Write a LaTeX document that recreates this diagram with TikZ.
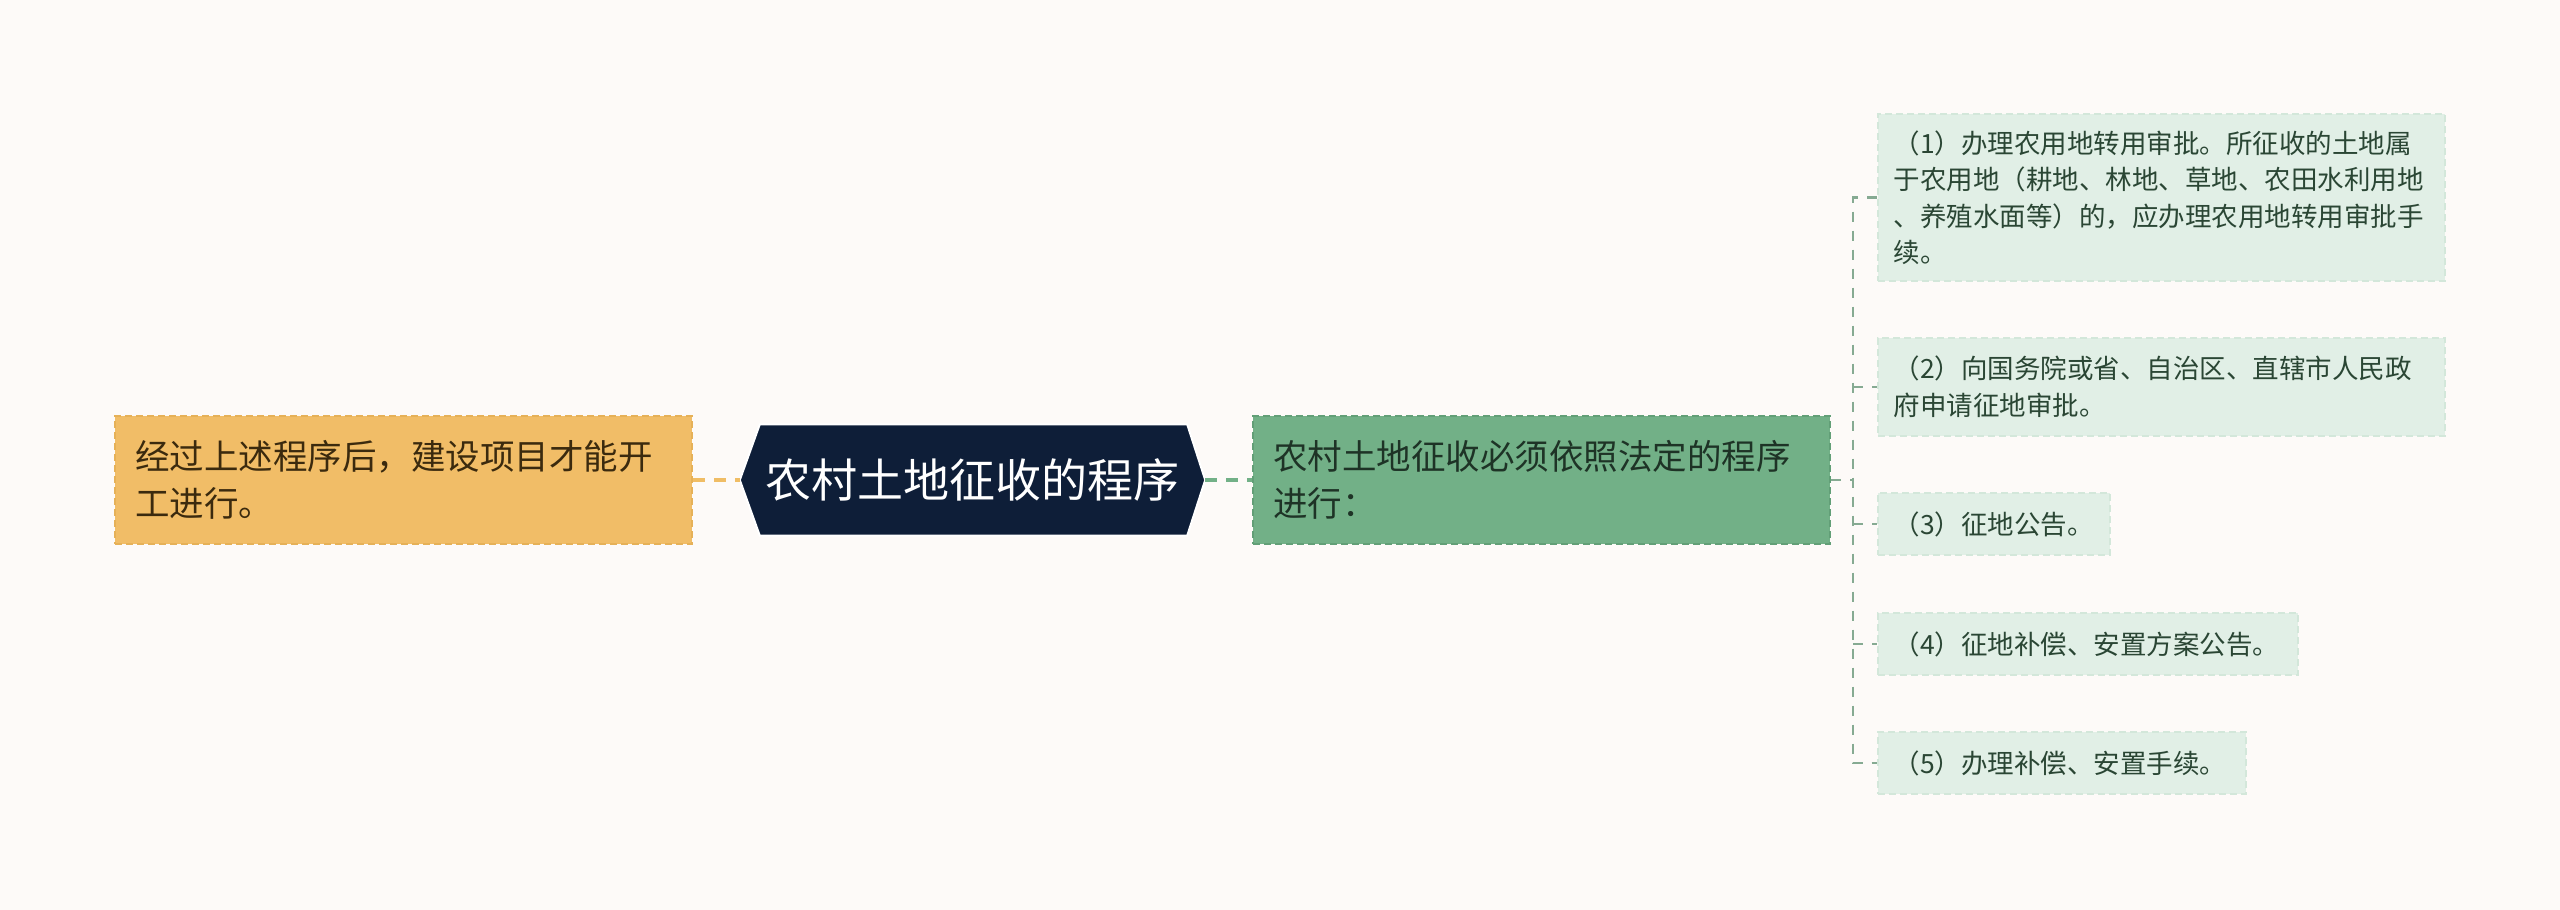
\documentclass[tikz,border=0pt]{standalone}
\usepackage{fontspec}
\setmainfont{Noto Sans CJK SC}
\usetikzlibrary{backgrounds}
\definecolor{bgc}{HTML}{FDFAF8}
\definecolor{orfill}{HTML}{F1BD67}
\definecolor{ordraw}{HTML}{E6B158}
\definecolor{ortext}{HTML}{3B2A0E}
\definecolor{rootfill}{HTML}{0E1E38}
\definecolor{grfill}{HTML}{72B087}
\definecolor{grdraw}{HTML}{629F77}
\definecolor{grtext}{HTML}{1E3326}
\definecolor{leaffill}{HTML}{E1EFE6}
\definecolor{leafdraw}{HTML}{D3E7DA}
\definecolor{leaftext}{HTML}{2A4634}
\definecolor{orline}{HTML}{F0BD65}
\definecolor{grline}{HTML}{72B087}
\definecolor{treecol}{HTML}{86AA92}
\begin{document}
\begin{tikzpicture}[x=1pt,y=-1pt,
  mainbox/.style={anchor=west, minimum height=128pt, inner xsep=20pt, inner ysep=4pt,
    text width=537pt, align=left, line width=2pt, dash pattern=on 7pt off 4pt,
    font=\fontsize{34.5}{47}\selectfont},
  leftbox/.style={mainbox, fill=orfill, draw=ordraw, text=ortext},
  midbox/.style={mainbox, fill=grfill, draw=grdraw, text=grtext},
  rootbox/.style={minimum width=465pt, minimum height=111pt, inner sep=0pt, text=white,
    font=\fontsize{46}{55}\selectfont},
  leafbox/.style={anchor=west, fill=leaffill, draw=leafdraw, line width=1.5pt,
    dash pattern=on 7pt off 4pt, inner xsep=16pt, inner ysep=4pt, align=left,
    text=leaftext, font=\fontsize{26.5}{36.5}\selectfont},
  conn/.style={line width=3.5pt, dash pattern=on 12pt off 9pt},
  treeline/.style={line width=2.4pt, draw=treecol, dash pattern=on 10pt off 9pt}]
\useasboundingbox (0,0) rectangle (2560,910);

\node[leftbox] (left) at (114,480) {经过上述程序后，建设项目才能开\\工进行。};
\node[rootbox] (root) at (972.5,480) {农村土地征收的程序};
\begin{scope}[on background layer]
\fill[bgc] (0,0) rectangle (2560,910);
\fill[rootfill, draw=white, line width=2pt] (root.west) -- ([xshift=20pt]root.north west) -- ([xshift=-18pt]root.north east)
  -- (root.east) -- ([xshift=-18pt]root.south east) -- ([xshift=20pt]root.south west) -- cycle;
\end{scope}
\node[midbox] (mid) at (1252,480) {农村土地征收必须依照法定的程序\\进行：};

\node[leafbox, text width=535pt, minimum height=167pt] (l1) at (1877,197.5)
  {（1）办理农用地转用审批。所征收的土地属\\于农用地（耕地、林地、草地、农田水利用地\\、养殖水面等）的，应办理农用地转用审批手\\续。};
\node[leafbox, text width=535pt, minimum height=98pt] (l2) at (1877,387)
  {（2）向国务院或省、自治区、直辖市人民政\\府申请征地审批。};
\node[leafbox, text width=200pt, minimum height=62pt] (l3) at (1877,524)
  {（3）征地公告。};
\node[leafbox, text width=388pt, minimum height=62pt] (l4) at (1877,644)
  {（4）征地补偿、安置方案公告。};
\node[leafbox, text width=336pt, minimum height=62pt] (l5) at (1877,763)
  {（5）办理补偿、安置手续。};

\draw[conn, draw=orline] (left.east) -- (root.west);
\draw[conn, draw=grline] (root.east) -- (mid.west);
\coordinate (trunk) at (1853,480);
\draw[treeline] (mid.east) -- (trunk);
\draw[treeline] (l1.west) -- (trunk |- l1.west) -- (trunk |- l5.west) -- (l5.west);
\draw[treeline] (trunk |- l2.west) -- (l2.west);
\draw[treeline] (trunk |- l3.west) -- (l3.west);
\draw[treeline] (trunk |- l4.west) -- (l4.west);
\end{tikzpicture}
\end{document}
